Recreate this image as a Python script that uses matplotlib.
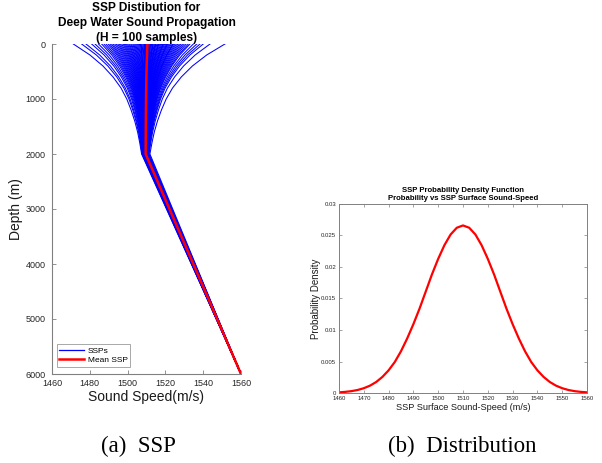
import numpy as np
import matplotlib
matplotlib.use("Agg")
import matplotlib.pyplot as plt

plt.rcParams['font.family'] = ['Liberation Sans', 'DejaVu Sans']

# ---------------- data ----------------
# surface sound speeds of the 100 sampled SSPs (m/s), estimated from the picture
surface_speeds = [
    1471.3, 1475.7, 1478.0, 1481.0, 1482.8, 1484.6, 1486.3, 1487.5, 1488.6, 1489.7,
    1490.6, 1491.5, 1492.3, 1493.2, 1494.0, 1494.8, 1495.5, 1496.2, 1496.9, 1497.6,
    1498.2, 1498.8, 1499.4, 1500.0, 1500.6, 1501.1, 1501.7, 1502.2, 1502.8, 1503.3,
    1503.8, 1504.3, 1504.8, 1505.3, 1505.8, 1506.3, 1506.8, 1507.0, 1507.2, 1507.7,
    1508.2, 1508.6, 1508.9, 1509.1, 1509.5, 1509.8, 1510.0, 1510.2, 1510.4, 1510.9,
    1511.0, 1511.3, 1511.8, 1512.0, 1512.2, 1512.7, 1513.1, 1513.4, 1513.6, 1514.1,
    1514.5, 1514.8, 1515.0, 1515.5, 1516.0, 1516.3, 1516.5, 1517.0, 1517.5, 1518.0,
    1518.5, 1518.8, 1519.1, 1519.6, 1520.2, 1520.7, 1521.0, 1521.3, 1521.9, 1522.5,
    1523.1, 1523.8, 1524.0, 1524.4, 1525.1, 1525.8, 1526.6, 1527.4, 1528.2, 1529.1,
    1530.0, 1531.0, 1532.1, 1533.0, 1534.8, 1536.6, 1538.3, 1540.0, 1543.6, 1551.5,
]
# depth nodes (m) and the fraction of the surface anomaly remaining at each node
depth_nodes = [0, 200, 400, 600, 800, 1000, 1200, 1400, 1600, 1800, 2000, 6000]
anomaly_fraction = [1.0, 0.77, 0.59, 0.45, 0.34, 0.26, 0.20, 0.15, 0.11, 0.08, 0.055, 0.0]
# background (mean) speed at each node
background_speed = [1509.5, 1509.5, 1509.5, 1509.5, 1509.5, 1509.5, 1509.5,
                    1509.5, 1509.5, 1509.5, 1509.5, 1560.0]

# PDF of surface sound speed
pdf_speed = [1460.0, 1462.5, 1465.0, 1467.5, 1470.0, 1472.5, 1475.0, 1477.5, 1480.0,
             1482.5, 1485.0, 1487.5, 1490.0, 1492.5, 1495.0, 1497.5, 1500.0, 1502.5,
             1505.0, 1507.5, 1510.0, 1512.5, 1515.0, 1517.5, 1520.0, 1522.5, 1525.0,
             1527.5, 1530.0, 1532.5, 1535.0, 1537.5, 1540.0, 1542.5, 1545.0, 1547.5,
             1550.0, 1552.5, 1555.0, 1557.5, 1560.0]
pdf_value = [0.000103, 0.000178, 0.000295, 0.000477, 0.000760, 0.001166, 0.001748,
             0.002554, 0.003599, 0.004924, 0.006632, 0.008664, 0.010934, 0.013422,
             0.016131, 0.018847, 0.021297, 0.023460, 0.025159, 0.026230, 0.026596,
             0.026230, 0.025159, 0.023460, 0.021297, 0.018847, 0.016131, 0.013422,
             0.010934, 0.008664, 0.006632, 0.004924, 0.003599, 0.002554, 0.001748,
             0.001166, 0.000760, 0.000477, 0.000295, 0.000178, 0.000103]

left_xticks = [1460, 1480, 1500, 1520, 1540, 1560]
left_yticks = [0, 1000, 2000, 3000, 4000, 5000, 6000]
right_xticks = [1460, 1470, 1480, 1490, 1500, 1510, 1520, 1530, 1540, 1550, 1560]
right_yticks = [0, 0.005, 0.01, 0.015, 0.02, 0.025, 0.03]
right_yticklabels = ['0', '0.005', '0.01', '0.015', '0.02', '0.025', '0.03']

# ---------------- figure ----------------
fig = plt.figure(figsize=(6.02, 4.63), dpi=100)

spine_col = '#808080'
tick_col = '#262626'

# ---- left panel ----
ax1 = fig.add_axes([52/602, 1-374/463, 189/602, 330/463])
bg = np.array(background_speed)
fr = np.array(anomaly_fraction)
profiles = []
for s in surface_speeds:
    c = bg + (s - bg[0]) * fr
    profiles.append(c)
    ax1.plot(c, depth_nodes, color=(0, 0, 1), lw=0.75)
mean_profile = np.mean(profiles, axis=0)
ax1.plot([], [], color=(0, 0, 1), lw=0.9, label='SSPs')
ax1.plot(mean_profile, depth_nodes, color=(1, 0, 0), lw=1.8, label='Mean SSP')
ax1.set_xlim(1460, 1560)
ax1.set_ylim(6000, 0)
ax1.set_xticks(left_xticks)
ax1.set_yticks(left_yticks)
for sp in ['top', 'right']:
    ax1.spines[sp].set_visible(False)
for sp in ['left', 'bottom']:
    ax1.spines[sp].set_color(spine_col)
    ax1.spines[sp].set_linewidth(0.8)
ax1.tick_params(direction='in', length=3, width=0.6, color=spine_col,
                labelsize=6.5, labelcolor=tick_col)
ax1.tick_params(axis='x', pad=3.5)
ax1.tick_params(axis='y', pad=4.5)
ax1.set_xlabel('Sound Speed(m/s)', fontsize=10, labelpad=1.5, color='#1a1a1a')
ax1.set_ylabel('Depth (m)', fontsize=10, labelpad=2, color='#1a1a1a')
ax1.set_title('SSP Distibution for\nDeep Water Sound Propagation\n(H = 100 samples)',
              fontsize=8.6, fontweight='bold', linespacing=1.28, pad=2.5)
leg = ax1.legend(loc='lower left', bbox_to_anchor=(0.026, 0.022), borderaxespad=0,
                 fontsize=6, frameon=True, fancybox=False,
                 edgecolor=spine_col, handlelength=3.0, borderpad=0.3,
                 labelspacing=0.2, handletextpad=0.4)
leg.get_frame().set_linewidth(0.6)

# ---- right panel ----
ax2 = fig.add_axes([339/602, 1-393/463, 248/602, 189/463])
ax2.plot(pdf_speed, pdf_value, color=(1, 0, 0), lw=1.6)
ax2.set_xlim(1460, 1560)
ax2.set_ylim(0, 0.03)
ax2.set_xticks(right_xticks)
ax2.set_yticks(right_yticks)
ax2.set_yticklabels(right_yticklabels)
for sp in ax2.spines.values():
    sp.set_color(spine_col)
    sp.set_linewidth(0.7)
ax2.tick_params(direction='in', length=2.5, width=0.5, color=spine_col,
                labelsize=4.3, labelcolor=tick_col, pad=2,
                top=True, right=True)
ax2.set_xlabel('SSP Surface Sound-Speed (m/s)', fontsize=6.6, labelpad=1.5, color='#1a1a1a')
ax2.set_ylabel('Probability Density', fontsize=7, labelpad=0.5, color='#1a1a1a')
ax2.set_title('SSP Probability Density Function\nProbability vs SSP Surface Sound-Speed',
              fontsize=5.6, fontweight='bold', linespacing=1.1, pad=3)

# ---- captions ----
fig.text(138/602, 1-446/463, '(a)  SSP', ha='center', va='center',
         fontsize=16.5, family=['Liberation Serif', 'DejaVu Serif'])
fig.text(462/602, 1-446/463, '(b)  Distribution', ha='center', va='center',
         fontsize=16.5, family=['Liberation Serif', 'DejaVu Serif'])

fig.savefig('out.png', dpi=100)
